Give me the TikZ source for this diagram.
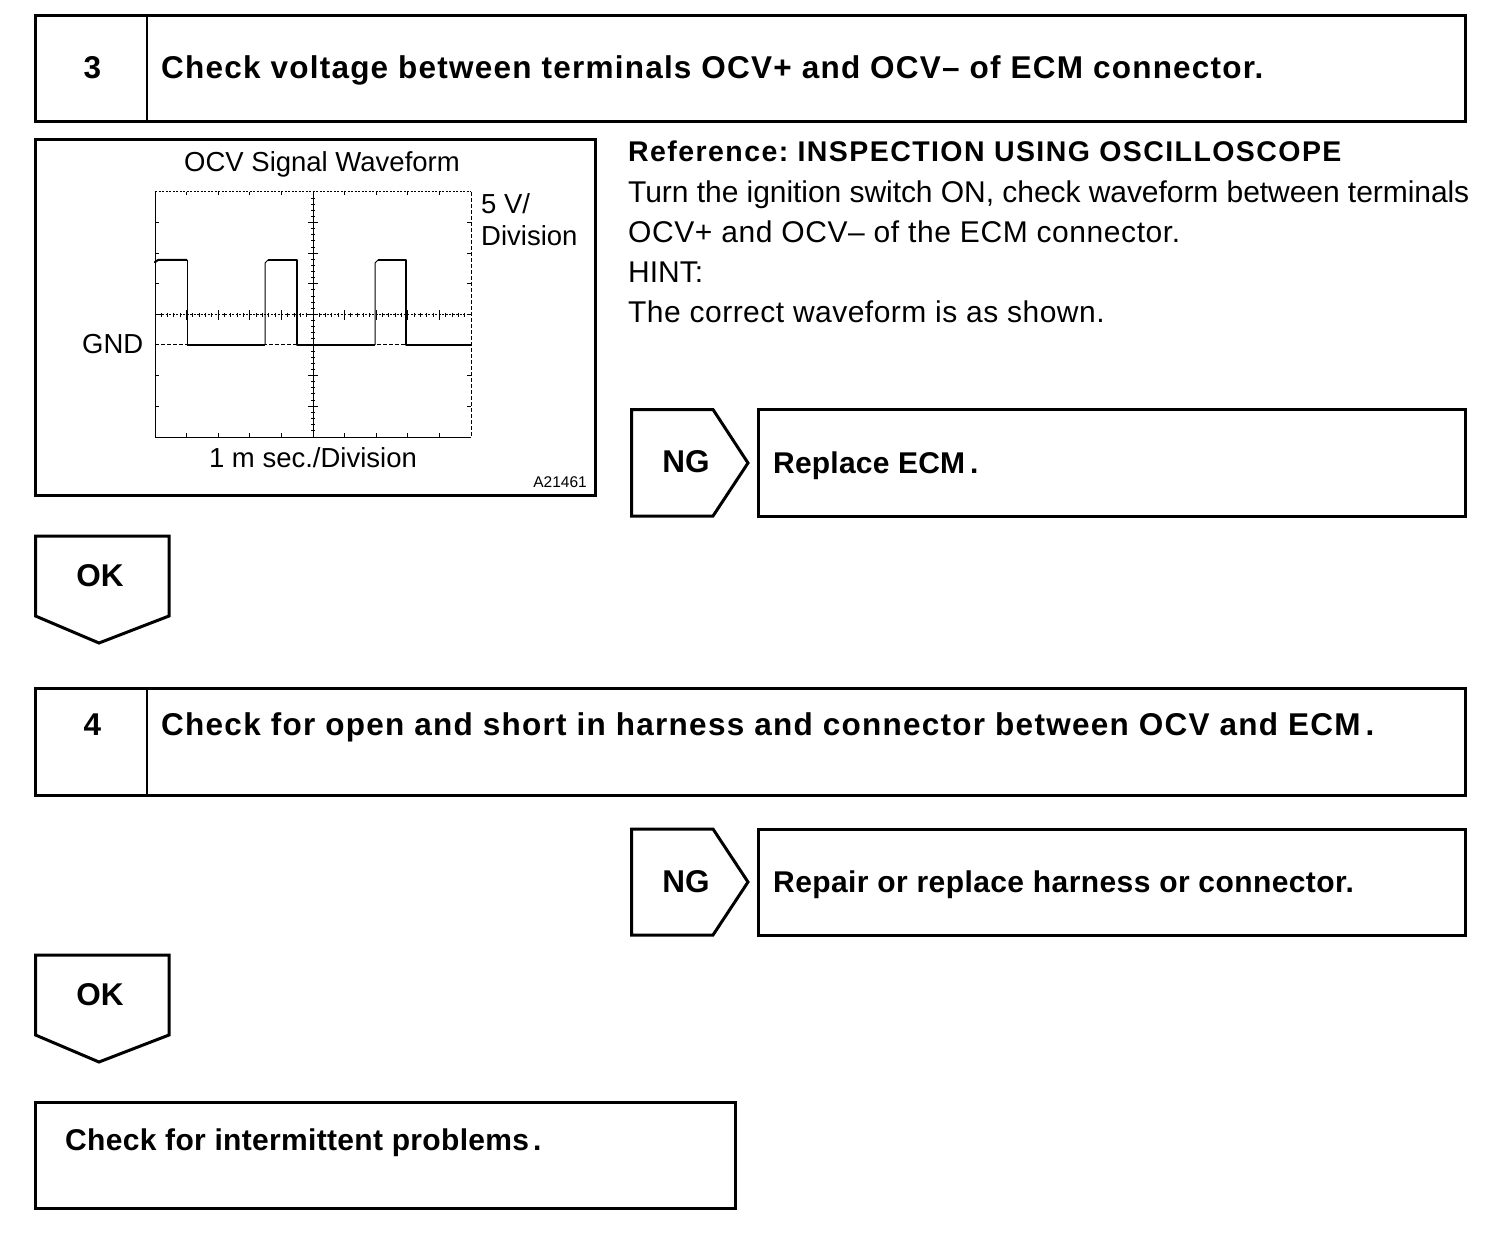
\documentclass[tikz,border=0pt]{standalone}
\usepackage{fontspec}
\setmainfont{Liberation Sans}
\newcommand{\spc}[1]{\addfontfeature{LetterSpace=#1}}
\begin{document}
\frenchspacing
\begin{tikzpicture}[x=1pt,y=-1pt,
  outline/.style={draw=black,line width=3pt,line join=miter},
  divider/.style={draw=black,line width=2.6pt},
  bigtxt/.style={font=\fontsize{31.5}{36}\bfseries\selectfont,inner sep=0pt,anchor=base west},
  midtxt/.style={font=\fontsize{30}{36}\bfseries\selectfont,inner sep=0pt,anchor=base west},
  bodytxt/.style={font=\fontsize{30}{36}\selectfont,inner sep=0pt,anchor=base west},
  smalltxt/.style={font=\fontsize{27.5}{32}\selectfont,inner sep=0pt},
  grid line/.style={line width=1pt,draw=black},
  dotted line/.style={line width=1pt,draw=black,dash pattern=on 2pt off 1.5pt},
  dash line/.style={line width=1pt,draw=black,dash pattern=on 4pt off 2pt},
  wave/.style={line width=2pt,draw=black,line join=round}]
\useasboundingbox (0,0) rectangle (1504,1246);
\fill[white] (0,0) rectangle (1504,1246);
% step 3
\draw[outline] (35.5,15.5) rectangle (1465,122);
\draw[divider] (147,15.5) -- (147,122);
\node[bigtxt,anchor=base] (n3) at (92.5,79) {3};
\node[bigtxt] (t3) at (161,79) {\spc{3.9}Check voltage between terminals OCV+ and OCV– of ECM connector.};
% waveform panel
\draw[outline] (35.5,140) rectangle (595.5,495);
\node[smalltxt,anchor=base] (wt) at (322,172) {OCV Signal Waveform};
\draw[dotted line] (155,192) -- (471,192);
\draw[dash line] (471,192) -- (471,437);
\draw[grid line] (155,192) -- (155,437) -- (471,437);
\draw[dotted line] (155,315) -- (471,315);
\draw[grid line] (313,192) -- (313,437);
\draw[dash line] (155,345) -- (471,345);
\foreach \i in {1,...,9}{
  \draw[grid line] ({155+31.6*\i},192) -- ++(0,3);
  \draw[grid line] ({155+31.6*\i},437) -- ++(0,-4);
  \draw[grid line] ({155+31.6*\i},310) -- ++(0,10);
}
\foreach \i in {1,...,49}{
  \draw[grid line] ({155+6.32*\i},313) -- ++(0,4);
}
\foreach \i in {1,...,7}{
  \draw[grid line] (155,{192+30.6*\i}) -- ++(4,0);
  \draw[grid line] (471,{192+30.6*\i}) -- ++(-4,0);
  \draw[grid line] (308,{192+30.6*\i}) -- ++(10,0);
}
\foreach \i in {1,...,39}{
  \draw[grid line] (311,{192+6.12*\i}) -- ++(4,0);
}
\draw[wave] (155,263) -- (155,262) -- (158,260) -- (187,260);
\draw[line width=1pt] (187,260) -- (187,345);
\draw[wave] (187,345) -- (265,345);
\draw[line width=1pt] (265,345) -- (265,263) -- (268,260);
\draw[wave] (268,260) -- (297,260) -- (297,345) -- (375,345);
\draw[line width=1pt] (375,345) -- (375,263) -- (378,260);
\draw[wave] (378,260) -- (406,260) -- (406,345) -- (471,345);
\node[smalltxt,anchor=base west] (v5) at (481,214) {5 V/};
\node[smalltxt,anchor=base west] (vd) at (481,246) {Division};
\node[smalltxt,anchor=base west] (gnd) at (82,354) {GND};
\node[smalltxt,anchor=base] (ms) at (313,467) {1 m sec./Division};
\node[font=\fontsize{15.5}{18}\selectfont,inner sep=0pt,anchor=base east] (code) at (587,487) {A21461};
% reference text
\node[font=\fontsize{28.5}{36}\bfseries\selectfont,inner sep=0pt,anchor=base west] (r1) at (628,162) {\spc{5}Reference: INSPECTION USING OSCILLOSCOPE};
\node[bodytxt] (r2) at (628,203) {\spc{-0.2}Turn the ignition switch ON, check waveform between terminals};
\node[bodytxt] (r3) at (628,243) {\spc{1.9}OCV+ and OCV– of the ECM connector.};
\node[bodytxt] (r4) at (628,283) {HINT:};
\node[bodytxt] (r5) at (628,323) {\spc{1.6}The correct waveform is as shown.};
% NG 1
\draw[outline] (631.5,409.5) -- (713,409.5) -- (748,463) -- (713,516) -- (631.5,516) -- cycle;
\node[bigtxt,anchor=base] (ng1) at (686,472) {NG};
\draw[outline] (758.5,409.5) rectangle (1465,516);
\node[midtxt] (a1) at (773,473) {\spc{0.7}Replace ECM\kern5pt.};
% OK 1
\draw[outline] (35.5,536) -- (169,536) -- (169,616) -- (99,643) -- (35.5,616) -- cycle;
\node[bigtxt,anchor=base] (ok1) at (100,586) {OK};
% step 4
\draw[outline] (35.5,688) rectangle (1465,795);
\draw[divider] (147,688) -- (147,795);
\node[bigtxt,anchor=base] (n4) at (92.5,735) {4};
\node[bigtxt] (t4) at (161,735) {\spc{4}Check for open and short in harness and connector between OCV and ECM\kern5pt.};
% NG 2
\draw[outline] (631.5,829) -- (713,829) -- (748,882) -- (713,935) -- (631.5,935) -- cycle;
\node[bigtxt,anchor=base] (ng2) at (686,892) {NG};
\draw[outline] (758.5,829) rectangle (1465,935);
\node[midtxt] (a2) at (773,892) {\spc{1.4}Repair or replace harness or connector.};
% OK 2
\draw[outline] (35.5,955) -- (169,955) -- (169,1035) -- (99,1062) -- (35.5,1035) -- cycle;
\node[bigtxt,anchor=base] (ok2) at (100,1005) {OK};
% final
\draw[outline] (35.5,1102) rectangle (735.5,1208);
\node[midtxt] (f) at (65,1150) {\spc{1.1}Check for intermittent problems\kern4pt.};
\end{tikzpicture}
\end{document}
